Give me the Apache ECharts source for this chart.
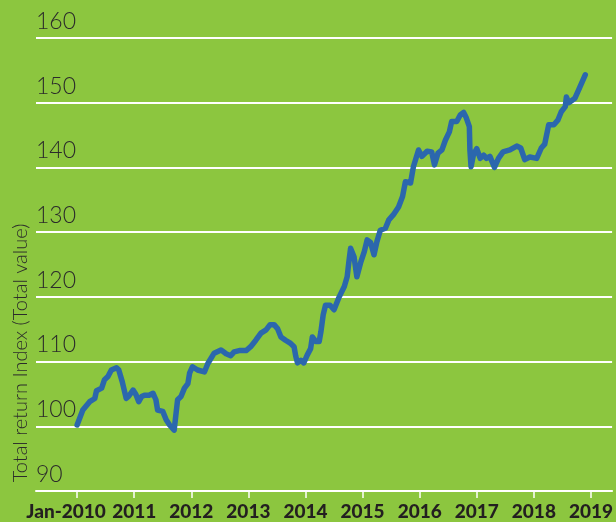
<!DOCTYPE html>
<html>
<head>
<meta charset="utf-8">
<script src="https://cdn.jsdelivr.net/npm/echarts@6/dist/echarts.min.js"></script>
<style>
  html, body { margin: 0; padding: 0; background: #8cc63f; }
  #chart { width: 616px; height: 522px; }
</style>
</head>
<body>
<div id="chart"></div>
<script>
// decimal years and index values
const dates = [
  2010.0, 2010.1, 2010.22, 2010.31, 2010.34, 2010.43, 2010.48, 2010.54, 2010.6, 2010.69,
  2010.73, 2010.79, 2010.86, 2010.9, 2010.98, 2011.03, 2011.08, 2011.13, 2011.18, 2011.26,
  2011.33, 2011.38, 2011.41, 2011.5, 2011.56, 2011.62, 2011.7, 2011.73, 2011.76, 2011.82,
  2011.88, 2011.94, 2011.97, 2012.02, 2012.11, 2012.23, 2012.29, 2012.4, 2012.52, 2012.61,
  2012.69, 2012.75, 2012.84, 2012.96, 2013.04, 2013.13, 2013.22, 2013.31, 2013.38, 2013.45,
  2013.51, 2013.57, 2013.65, 2013.74, 2013.8, 2013.83, 2013.86, 2013.92, 2013.97, 2014.03,
  2014.09, 2014.12, 2014.18, 2014.24, 2014.27, 2014.31, 2014.35, 2014.43, 2014.5, 2014.58,
  2014.68, 2014.73, 2014.76, 2014.79, 2014.85, 2014.9, 2014.97, 2015.03, 2015.08, 2015.14,
  2015.2, 2015.25, 2015.31, 2015.4, 2015.46, 2015.54, 2015.63, 2015.7, 2015.75, 2015.84,
  2015.89, 2015.98, 2016.04, 2016.13, 2016.21, 2016.26, 2016.32, 2016.39, 2016.45, 2016.52,
  2016.56, 2016.65, 2016.71, 2016.77, 2016.81, 2016.87, 2016.88, 2016.9, 2016.94, 2017.0,
  2017.06, 2017.12, 2017.17, 2017.23, 2017.31, 2017.38, 2017.46, 2017.58, 2017.7, 2017.77,
  2017.84, 2017.93, 2018.05, 2018.13, 2018.19, 2018.26, 2018.35, 2018.42, 2018.48, 2018.55,
  2018.57, 2018.61, 2018.72, 2018.8, 2018.9
];
const index = [
  100.2, 102.5, 103.8, 104.3, 105.5, 105.9, 107.2, 107.7, 108.7, 109.05,
  108.7, 106.9, 104.3, 104.6, 105.6, 104.9, 103.8, 104.6, 104.8, 104.8,
  105.1, 104.1, 102.5, 102.3, 101.0, 100.2, 99.4, 99.7, 104.1, 104.6,
  105.9, 106.6, 108.2, 109.2, 108.7, 108.4, 109.7, 111.3, 111.8, 111.2,
  110.9, 111.5, 111.7, 111.7, 112.3, 113.3, 114.4, 114.9, 115.7, 115.7,
  115.1, 113.8, 113.3, 112.8, 112.3, 110.8, 109.8, 110.2, 109.8, 111.0,
  112.0, 113.8, 113.1, 113.1, 114.6, 117.2, 118.7, 118.7, 118.0, 119.8,
  121.6, 123.1, 125.4, 127.5, 126.2, 123.1, 125.4, 127.0, 128.8, 128.4,
  126.5, 128.5, 130.3, 130.6, 131.9, 132.7, 133.9, 135.5, 137.8, 137.6,
  140.1, 142.7, 141.7, 142.5, 142.4, 140.4, 142.2, 142.7, 144.2, 145.5,
  147.1, 147.1, 148.1, 148.5, 147.8, 146.3, 142.7, 140.1, 141.9, 142.9,
  141.4, 141.9, 141.4, 141.7, 140.0, 141.4, 142.4, 142.7, 143.3, 143.0,
  141.2, 141.6, 141.4, 143.0, 143.6, 146.6, 146.6, 147.3, 148.6, 149.4,
  150.9, 150.0, 150.7, 152.3, 154.3
];
const yearTicks = [2010, 2011, 2012, 2013, 2014, 2015, 2016, 2017, 2018, 2019];
const yTitle = 'Total return Index (Total value)';

const chart = echarts.init(document.getElementById('chart'));
chart.setOption({
  backgroundColor: '#8cc63f',
  animation: false,
  grid: { left: 36, right: 2, top: 38, bottom: 31 },
  xAxis: {
    type: 'value',
    min: 2009.28,
    max: 2019.37,
    axisLine: { show: true, lineStyle: { color: '#ffffff', width: 2 } },
    axisTick: {
      show: true,
      customValues: yearTicks,
      length: 7,
      lineStyle: { color: '#ffffff', width: 1.5 }
    },
    splitLine: { show: false },
    axisLabel: {
      customValues: yearTicks,
      margin: 11,
      formatter: function (v) {
        return v === 2010 ? '{first|Jan-2010}' : String(v);
      },
      color: '#231f20',
      fontFamily: 'Lato',
      fontWeight: 900,
      fontSize: 19,
      rich: {
        first: {
          color: '#231f20',
          fontFamily: 'Lato',
          fontWeight: 900,
          fontSize: 19,
          padding: [0, 22, 0, 0]
        }
      }
    }
  },
  yAxis: {
    type: 'value',
    min: 90,
    max: 160,
    interval: 10,
    axisLine: { show: false },
    axisTick: { show: false },
    splitLine: { lineStyle: { color: '#ffffff', width: 2 } },
    axisLabel: {
      inside: true,
      margin: 0,
      verticalAlign: 'bottom',
      padding: [0, 0, 5, 0],
      color: '#2b2b2b',
      fontFamily: 'Lato',
      fontWeight: 300,
      fontSize: 23
    }
  },
  graphic: [{
    type: 'text',
    x: 21,
    y: 353,
    rotation: Math.PI / 2,
    style: {
      text: yTitle,
      fill: '#2b2b2b',
      font: '300 20px Lato',
      align: 'center',
      verticalAlign: 'middle'
    }
  }],
  series: [{
    type: 'line',
    data: dates.map((d, i) => [d, index[i]]),
    showSymbol: false,
    lineStyle: { color: '#2b67ad', width: 5.5, cap: 'round', join: 'round' }
  }]
});
</script>
</body>
</html>
